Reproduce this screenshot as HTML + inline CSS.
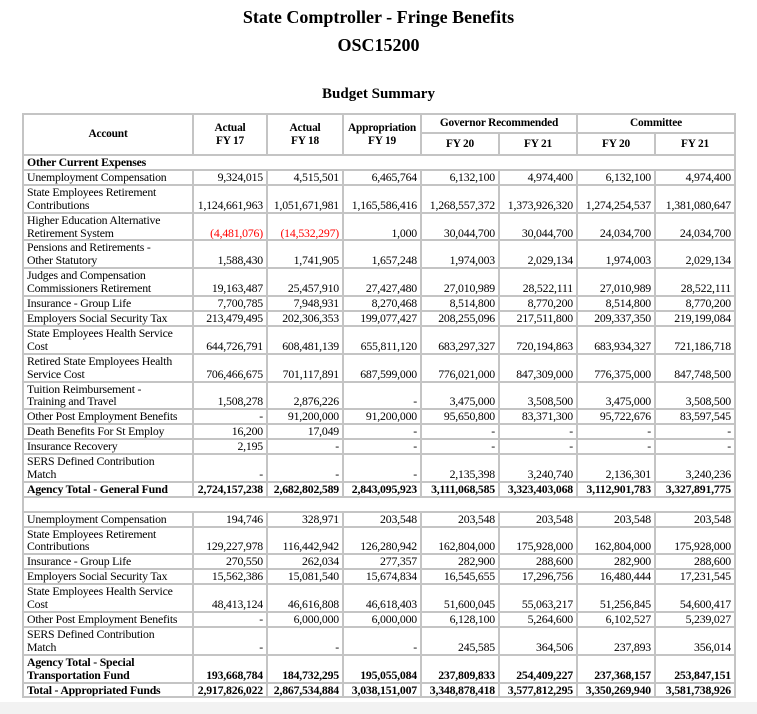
<!DOCTYPE html>
<html><head><meta charset="utf-8"><style>
html,body{margin:0;padding:0;background:#fff;width:757px;height:714px;overflow:hidden;font-family:"Liberation Serif",serif;color:#000}
.t1{position:absolute;left:0;width:757px;text-align:center;font-weight:bold;font-size:18px}
table{position:absolute;left:22px;top:113px;border-collapse:collapse;table-layout:fixed;font-size:11.8px;letter-spacing:-0.2px}
td,th{border:2px solid #c4c4c4;padding:0 3px;line-height:12.9px;vertical-align:bottom;text-align:right;white-space:nowrap;overflow:hidden}
td.l{text-align:left}
th{font-weight:bold;text-align:center;vertical-align:middle;font-size:11.4px}
.b td{font-weight:bold}
.r{color:#f00}
.bot{position:absolute;left:0;top:702px;width:757px;height:12px;background:#f2f2f2}
</style></head><body>
<div class="t1" style="top:7px">State Comptroller - Fringe Benefits</div>
<div class="t1" style="top:35px">OSC15200</div>
<div class="t1" style="top:86px;font-size:15px">Budget Summary</div>
<table>
<colgroup><col style="width:170px"><col style="width:74px"><col style="width:76px"><col style="width:78px"><col style="width:78px"><col style="width:78px"><col style="width:78px"><col style="width:80px"></colgroup>
<tr style="height:19px"><th rowspan="2">Account</th><th rowspan="2">Actual<br>FY 17</th><th rowspan="2">Actual<br>FY 18</th><th rowspan="2">Appropriation<br>FY 19</th><th colspan="2">Governor Recommended</th><th colspan="2">Committee</th></tr>
<tr style="height:22px"><th>FY 20</th><th>FY 21</th><th>FY 20</th><th>FY 21</th></tr>
<tr class="b"><td class="l" colspan="8">Other Current Expenses</td></tr>
<tr><td class="l">Unemployment Compensation</td><td>9,324,015</td><td>4,515,501</td><td>6,465,764</td><td>6,132,100</td><td>4,974,400</td><td>6,132,100</td><td>4,974,400</td></tr>
<tr><td class="l">State Employees Retirement<br>Contributions</td><td>1,124,661,963</td><td>1,051,671,981</td><td>1,165,586,416</td><td>1,268,557,372</td><td>1,373,926,320</td><td>1,274,254,537</td><td>1,381,080,647</td></tr>
<tr><td class="l">Higher Education Alternative<br>Retirement System</td><td class="r">(4,481,076)</td><td class="r">(14,532,297)</td><td>1,000</td><td>30,044,700</td><td>30,044,700</td><td>24,034,700</td><td>24,034,700</td></tr>
<tr><td class="l">Pensions and Retirements -<br>Other Statutory</td><td>1,588,430</td><td>1,741,905</td><td>1,657,248</td><td>1,974,003</td><td>2,029,134</td><td>1,974,003</td><td>2,029,134</td></tr>
<tr><td class="l">Judges and Compensation<br>Commissioners Retirement</td><td>19,163,487</td><td>25,457,910</td><td>27,427,480</td><td>27,010,989</td><td>28,522,111</td><td>27,010,989</td><td>28,522,111</td></tr>
<tr><td class="l">Insurance - Group Life</td><td>7,700,785</td><td>7,948,931</td><td>8,270,468</td><td>8,514,800</td><td>8,770,200</td><td>8,514,800</td><td>8,770,200</td></tr>
<tr><td class="l">Employers Social Security Tax</td><td>213,479,495</td><td>202,306,353</td><td>199,077,427</td><td>208,255,096</td><td>217,511,800</td><td>209,337,350</td><td>219,199,084</td></tr>
<tr><td class="l">State Employees Health Service<br>Cost</td><td>644,726,791</td><td>608,481,139</td><td>655,811,120</td><td>683,297,327</td><td>720,194,863</td><td>683,934,327</td><td>721,186,718</td></tr>
<tr><td class="l">Retired State Employees Health<br>Service Cost</td><td>706,466,675</td><td>701,117,891</td><td>687,599,000</td><td>776,021,000</td><td>847,309,000</td><td>776,375,000</td><td>847,748,500</td></tr>
<tr><td class="l">Tuition Reimbursement -<br>Training and Travel</td><td>1,508,278</td><td>2,876,226</td><td>-</td><td>3,475,000</td><td>3,508,500</td><td>3,475,000</td><td>3,508,500</td></tr>
<tr><td class="l">Other Post Employment Benefits</td><td>-</td><td>91,200,000</td><td>91,200,000</td><td>95,650,800</td><td>83,371,300</td><td>95,722,676</td><td>83,597,545</td></tr>
<tr><td class="l">Death Benefits For St Employ</td><td>16,200</td><td>17,049</td><td>-</td><td>-</td><td>-</td><td>-</td><td>-</td></tr>
<tr><td class="l">Insurance Recovery</td><td>2,195</td><td>-</td><td>-</td><td>-</td><td>-</td><td>-</td><td>-</td></tr>
<tr><td class="l">SERS Defined Contribution<br>Match</td><td>-</td><td>-</td><td>-</td><td>2,135,398</td><td>3,240,740</td><td>2,136,301</td><td>3,240,236</td></tr>
<tr class="b"><td class="l">Agency Total - General Fund</td><td>2,724,157,238</td><td>2,682,802,589</td><td>2,843,095,923</td><td>3,111,068,585</td><td>3,323,403,068</td><td>3,112,901,783</td><td>3,327,891,775</td></tr>
<tr><td colspan="8">&nbsp;</td></tr>
<tr><td class="l">Unemployment Compensation</td><td>194,746</td><td>328,971</td><td>203,548</td><td>203,548</td><td>203,548</td><td>203,548</td><td>203,548</td></tr>
<tr><td class="l">State Employees Retirement<br>Contributions</td><td>129,227,978</td><td>116,442,942</td><td>126,280,942</td><td>162,804,000</td><td>175,928,000</td><td>162,804,000</td><td>175,928,000</td></tr>
<tr><td class="l">Insurance - Group Life</td><td>270,550</td><td>262,034</td><td>277,357</td><td>282,900</td><td>288,600</td><td>282,900</td><td>288,600</td></tr>
<tr><td class="l">Employers Social Security Tax</td><td>15,562,386</td><td>15,081,540</td><td>15,674,834</td><td>16,545,655</td><td>17,296,756</td><td>16,480,444</td><td>17,231,545</td></tr>
<tr><td class="l">State Employees Health Service<br>Cost</td><td>48,413,124</td><td>46,616,808</td><td>46,618,403</td><td>51,600,045</td><td>55,063,217</td><td>51,256,845</td><td>54,600,417</td></tr>
<tr><td class="l">Other Post Employment Benefits</td><td>-</td><td>6,000,000</td><td>6,000,000</td><td>6,128,100</td><td>5,264,600</td><td>6,102,527</td><td>5,239,027</td></tr>
<tr><td class="l">SERS Defined Contribution<br>Match</td><td>-</td><td>-</td><td>-</td><td>245,585</td><td>364,506</td><td>237,893</td><td>356,014</td></tr>
<tr class="b"><td class="l">Agency Total - Special<br>Transportation Fund</td><td>193,668,784</td><td>184,732,295</td><td>195,055,084</td><td>237,809,833</td><td>254,409,227</td><td>237,368,157</td><td>253,847,151</td></tr>
<tr class="b"><td class="l">Total - Appropriated Funds</td><td>2,917,826,022</td><td>2,867,534,884</td><td>3,038,151,007</td><td>3,348,878,418</td><td>3,577,812,295</td><td>3,350,269,940</td><td>3,581,738,926</td></tr>
</table>
<div class="bot"></div>
</body></html>
